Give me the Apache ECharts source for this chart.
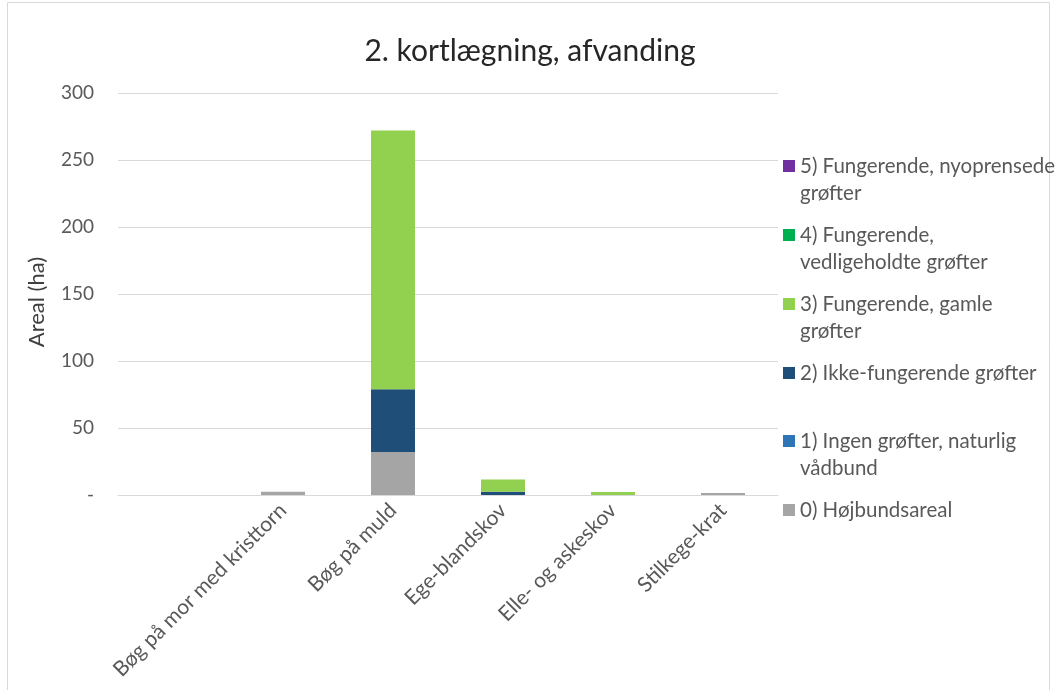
<!DOCTYPE html>
<html>
<head>
<meta charset="utf-8">
<script src="https://cdn.jsdelivr.net/npm/echarts@6/dist/echarts.min.js"></script>
<style>
  html, body { margin: 0; padding: 0; background: #fff; }
  #chart { width: 1058px; height: 690px; }
</style>
</head>
<body>
<div id="chart"></div>
<script>
const categories = ["", "Bøg på mor med kristtorn", "Bøg på muld", "Ege-blandskov", "Elle- og askeskov", "Stilkege-krat"];
const seriesNames = ["0) Højbundsareal", "1) Ingen grøfter, naturlig vådbund", "2) Ikke-fungerende grøfter", "3) Fungerende, gamle grøfter", "4) Fungerende, vedligeholdte grøfter", "5) Fungerende, nyoprensede grøfter"];
const legendLabels = ["0) Højbundsareal", "1) Ingen grøfter, naturlig\nvådbund", "2) Ikke-fungerende grøfter", "3) Fungerende, gamle\ngrøfter", "4) Fungerende,\nvedligeholdte grøfter", "5) Fungerende, nyoprensede\ngrøfter"];
const s0 = [0, 2.5, 32, 0, 0, 1.5];
const s1 = [0, 0, 0, 0, 0, 0];
const s2 = [0, 0, 47, 2.5, 0, 0];
const s3 = [0, 0, 193, 9, 2.2, 0];
const s4 = [0, 0, 0, 0, 0, 0];
const s5 = [0, 0, 0, 0, 0, 0];
const seriesValues = [s0, s1, s2, s3, s4, s5];
const yTicks = [0, 50, 100, 150, 200, 250, 300];

const colors = ["#a5a5a5", "#2e75b6", "#1f4e79", "#92d050", "#00b050", "#7030a0"];
const FONT = "Lato";
const FS = 21;
const LFS = 20.5;
const LH = 27;
const legendCenters = [509, 440, 372, 303, 234, 165];

const chart = echarts.init(document.getElementById('chart'));

// Each legend text is padded with blank lines so that its first line sits centred on the icon
const legends = seriesNames.map((n, i) => {
  const lbl = legendLabels[i];
  const twoLine = lbl.indexOf('\n') >= 0;
  const shown = twoLine ? ' \n' + lbl : ' \n' + lbl + '\n ';
  return {
    show: true,
    left: 783,
    top: legendCenters[i] - 1.5 * LH + 1,
    orient: 'vertical',
    padding: 0,
    itemWidth: 12,
    itemHeight: 12,
    itemGap: 0,
    icon: 'rect',
    data: [n],
    selectedMode: false,
    formatter: () => shown,
    textStyle: { fontFamily: FONT, fontSize: LFS, color: '#595959', lineHeight: LH }
  };
});

chart.setOption({
  animation: false,
  color: colors,
  title: {
    text: '2. kortlægning, afvanding',
    left: 525, top: 31, textAlign: 'center',
    textStyle: { fontFamily: FONT, fontSize: 30, fontWeight: 'normal', color: '#262626' }
  },
  legend: legends,
  grid: { left: 118, right: 280, top: 93, bottom: 195, containLabel: false },
  xAxis: {
    type: 'category',
    data: categories,
    axisLine: { show: true, lineStyle: { color: '#d9d9d9', width: 1 } },
    axisTick: { show: false },
    axisLabel: { rotate: 45, interval: 0, margin: 12, fontFamily: FONT, fontSize: FS, color: '#595959' }
  },
  yAxis: {
    type: 'value',
    min: yTicks[0], max: yTicks[yTicks.length - 1], interval: 50,
    name: 'Areal (ha)',
    nameLocation: 'middle',
    nameGap: 70,
    nameRotate: 90,
    nameTextStyle: { fontFamily: FONT, fontSize: 22, color: '#404040', padding: [0, 16, 0, 0] },
    axisLine: { show: false },
    axisTick: { show: false },
    splitLine: { lineStyle: { color: '#d9d9d9', width: 1 } },
    axisLabel: {
      margin: 24, fontFamily: FONT, fontSize: 19, color: '#595959',
      formatter: v => v === 0 ? '-' : String(v)
    }
  },
  series: seriesNames.map((n, i) => ({
    name: n,
    type: 'bar',
    stack: 'total',
    barCategoryGap: '60%',
    data: seriesValues[i],
    itemStyle: { color: colors[i] }
  })),
  graphic: [{
    type: 'rect',
    shape: { x: 7.5, y: 2.5, width: 1042, height: 700 },
    style: { fill: 'none', stroke: '#d9d9d9', lineWidth: 1 },
    silent: true, z: -10
  }]
});
</script>
</body>
</html>
